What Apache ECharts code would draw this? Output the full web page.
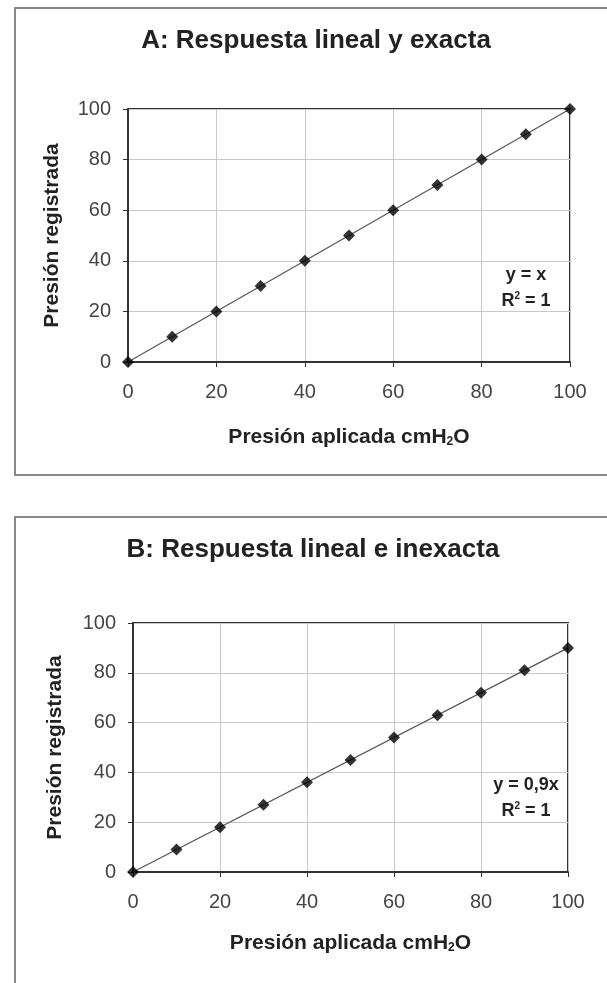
<!DOCTYPE html>
<html lang="es">
<head>
<meta charset="UTF-8">
<title>Respuesta lineal</title>
<style>
  html, body { margin: 0; padding: 0; background: #fff; }
</style>
</head>
<body>
<div id="chart" style="width: 607px;height: 983px"></div>
<script src="https://cdn.jsdelivr.net/npm/echarts@6/dist/echarts.min.js"></script>
<script>
const presionAplicada = [0, 10, 20, 30, 40, 50, 60, 70, 80, 90, 100];
const registradaA = [0, 10, 20, 30, 40, 50, 60, 70, 80, 90, 100];
const registradaB = [0, 9, 18, 27, 36, 45, 54, 63, 72, 81, 90];
const trendA = [[0, 0], [100, 100]];
const trendB = [[0, 0], [100, 90]];
const titles = ['A: Respuesta lineal y exacta', 'B: Respuesta lineal e inexacta'];
const ecuaciones = ['y = x', 'y = 0,9x'];

const font = 'Liberation Sans, Arial, sans-serif';
const pts = ys => presionAplicada.map((x, i) => [x, ys[i]]);

function xAxis(gridIndex, gap) {
    return {
        gridIndex, type: 'value', min: 0, max: 100, interval: 20,
        name: 'Presión aplicada cmH{sub|2}O',
        nameLocation: 'middle', nameGap: gap,
        nameTextStyle: {
            fontFamily: font, fontWeight: 'bold', fontSize: 21, color: '#222',
            rich: {sub: {fontFamily: font, fontWeight: 'bold', fontSize: 12, color: '#222', verticalAlign: 'bottom', padding: [10, 0, 0, 0]}}
        },
        axisLine: {show: true, lineStyle: {color: '#333', width: 2}},
        axisTick: {show: true, length: 5, lineStyle: {color: '#333'}},
        axisLabel: {fontFamily: font, fontSize: 20, color: '#444', margin: 20},
        splitLine: {show: true, lineStyle: {color: '#c8c8c8'}}
    };
}

function yAxis(gridIndex, gap) {
    return {
        gridIndex, type: 'value', min: 0, max: 100, interval: 20,
        name: 'Presión registrada',
        nameLocation: 'middle', nameGap: gap,
        nameTextStyle: {fontFamily: font, fontWeight: 'bold', fontSize: 21, color: '#222'},
        axisLine: {show: true, lineStyle: {color: '#333', width: 2}},
        axisTick: {show: true, length: 5, lineStyle: {color: '#333'}},
        axisLabel: {fontFamily: font, fontSize: 20, color: '#444', margin: 17},
        splitLine: {show: true, lineStyle: {color: '#c8c8c8'}}
    };
}

function puntos(idx, ys) {
    return {
        type: 'scatter', xAxisIndex: idx, yAxisIndex: idx, z: 3,
        symbol: 'diamond', symbolSize: 12,
        itemStyle: {color: '#000'},
        data: pts(ys)
    };
}

function tendencia(idx, data) {
    return {
        type: 'line', xAxisIndex: idx, yAxisIndex: idx, z: 2,
        showSymbol: false, silent: true,
        lineStyle: {color: '#555', width: 1.2},
        data
    };
}

function ecuacion(x, y, eq) {
    return {
        type: 'text', x: x, y: y,
        style: {
            text: '{r|' + eq + '}\n{r|R}{sup|2}{r| = 1}',
            align: 'center', verticalAlign: 'top',
            rich: {
                r: {fontFamily: font, fontWeight: 'bold', fontSize: 18, lineHeight: 26, fill: '#222'},
                sup: {fontFamily: font, fontWeight: 'bold', fontSize: 10, lineHeight: 26, fill: '#222', padding: [0, 0, 10, 0]}
            }
        }
    };
}

const chart = echarts.init(document.getElementById('chart'));
chart.setOption({
    animation: false,
    title: [
        {text: titles[0], left: 311, top: 23, textAlign: 'center',
            textStyle: {fontFamily: font, fontWeight: 'bold', fontSize: 26, color: '#222'}},
        {text: titles[1], left: 308, top: 532, textAlign: 'center',
            textStyle: {fontFamily: font, fontWeight: 'bold', fontSize: 26, color: '#222'}}
    ],
    grid: [
        {left: 128, top: 109, width: 442, height: 253, show: true, borderColor: '#333', borderWidth: 2},
        {left: 133, top: 623, width: 435, height: 249, show: true, borderColor: '#333', borderWidth: 2}
    ],
    xAxis: [xAxis(0, 64), xAxis(1, 60)],
    yAxis: [yAxis(0, 65), yAxis(1, 67)],
    series: [
        tendencia(0, trendA), puntos(0, registradaA),
        tendencia(1, trendB), puntos(1, registradaB)
    ],
    graphic: [
        {type: 'rect', shape: {x: 15, y: 8, width: 620, height: 467},
            style: {fill: 'none', stroke: '#888', lineWidth: 2}, silent: true},
        {type: 'rect', shape: {x: 15, y: 517, width: 620, height: 500},
            style: {fill: 'none', stroke: '#888', lineWidth: 2}, silent: true},
        ecuacion(526, 262, ecuaciones[0]),
        ecuacion(526, 772, ecuaciones[1])
    ]
});
</script>
</body>
</html>
